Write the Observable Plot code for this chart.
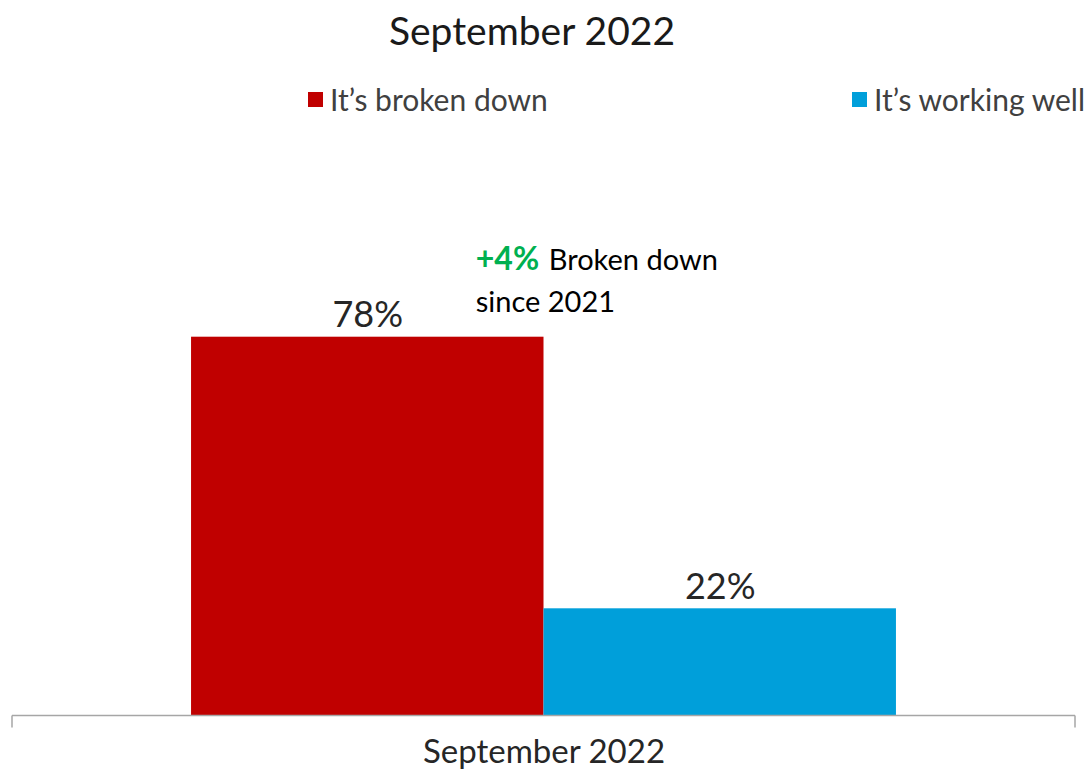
<!DOCTYPE html>
<html>
<head>
<meta charset="utf-8">
<script src="https://cdn.jsdelivr.net/npm/d3@7"></script>
<script src="https://cdn.jsdelivr.net/npm/@observablehq/plot@0.6"></script>
<style>
  body { margin: 0; background: #fff; font-family: Lato, "Open Sans", sans-serif; }
  #wrap { position: relative; width: 1089px; height: 769px; }
  #title { position: absolute; top: 0; left: 0; width: 1064px; height: 62px; text-align: center; font-size: 39px; line-height: 60px; color: #1a1a1a; }
  #legend { position: absolute; top: 62px; left: 0; width: 1089px; height: 78px; font-size: 30px; color: #404040; }
  .item { position: absolute; top: 17px; height: 40px; display: flex; align-items: center; white-space: nowrap; }
  .sw { width: 15px; height: 15px; margin-right: 7px; display: inline-block; }
  #chart { position: absolute; top: 140px; left: 0; }
</style>
</head>
<body>
<div id="wrap">
  <div id="title"></div>
  <div id="legend"></div>
  <div id="chart"></div>
</div>
<script>
const titleText = "September 2022";
const categories = ["September 2022"];
const series = ["It\u2019s broken down", "It\u2019s working well"];
const values = [78, 22];
const valueLabels = ["78%", "22%"];
const colors = ["#C00000", "#009FDA"];
const annotationChange = "+4%";
const annotationLine1 = "Broken down";
const annotationLine2 = "since 2021";

document.getElementById("title").textContent = titleText;

const legend = document.getElementById("legend");
const legendLefts = [308, 852];
series.forEach((s, i) => {
  const it = document.createElement("div");
  it.className = "item";
  it.style.left = legendLefts[i] + "px";
  const sw = document.createElement("span");
  sw.className = "sw";
  sw.style.background = colors[i];
  it.appendChild(sw);
  it.appendChild(document.createTextNode(s));
  legend.appendChild(it);
});

const data = series.map((s, i) => ({series: s, value: values[i], label: valueLabels[i], category: categories[0]}));

const plot = Plot.plot({
  width: 1089,
  height: 629,
  marginLeft: 12,
  marginRight: 14,
  marginTop: 90,
  marginBottom: 54,
  style: {fontFamily: "Lato, 'Open Sans', sans-serif", background: "#fff", overflow: "visible"},
  x: {domain: series, paddingOuter: 0.508, paddingInner: 0, axis: null, round: false},
  y: {domain: [0, 100], axis: null},
  color: {domain: series, range: colors},
  marks: [
    Plot.barY(data, {x: "series", y: "value", fill: "series", inset: 0}),
    Plot.ruleY([0], {
      stroke: "#a6a6a6", strokeWidth: 1.5,
      render: (I, scales, values, dims, ctx, next) => {
        const g = next(I, scales, values, dims, ctx);
        const y0 = scales.y(0);
        for (const x of [dims.marginLeft, dims.width - dims.marginRight]) {
          const l = ctx.document.createElementNS("http://www.w3.org/2000/svg", "line");
          l.setAttribute("x1", x); l.setAttribute("x2", x);
          l.setAttribute("y1", y0); l.setAttribute("y2", y0 + 12);
          l.setAttribute("stroke", "#a6a6a6"); l.setAttribute("stroke-width", 1.5);
          g.appendChild(l);
        }
        return g;
      }
    }),
    Plot.text(data, {x: "series", y: "value", text: "label", lineAnchor: "bottom", dy: -10, fontSize: 36, fill: "#262626"}),
    Plot.text(categories, {frameAnchor: "bottom", text: d => d, lineAnchor: "bottom", dy: 47, fontSize: 33, fill: "#262626"}),
    Plot.text([data[0]], {x: "series", y: "value", text: () => annotationChange, textAnchor: "start", lineAnchor: "bottom", dx: 108, dy: -67, fontSize: 32, fontWeight: "bold", fill: "#00B050"}),
    Plot.text([data[0]], {x: "series", y: "value", text: () => annotationLine1, textAnchor: "start", lineAnchor: "bottom", dx: 181, dy: -67, fontSize: 29, fill: "#000"}),
    Plot.text([data[0]], {x: "series", y: "value", text: () => annotationLine2, textAnchor: "start", lineAnchor: "bottom", dx: 108, dy: -25, fontSize: 29, fill: "#000"})
  ]
});
document.getElementById("chart").appendChild(plot);
</script>
</body>
</html>
